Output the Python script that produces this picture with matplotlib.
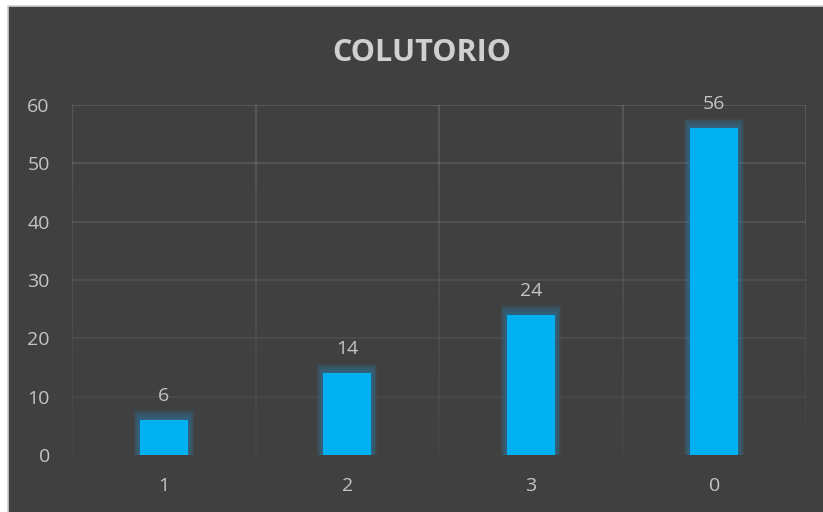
import matplotlib.pyplot as plt
import numpy as np
from matplotlib.lines import Line2D
from matplotlib.patches import Rectangle
from matplotlib.collections import LineCollection

categories = ["1", "2", "3", "0"]
values = [6, 14, 24, 56]
yticks = [0, 10, 20, 30, 40, 50, 60]

bg = "#404040"
bar_color = "#00B0F0"
text_color = "#C4C4C4"

plt.rcParams['font.family'] = ['Open Sans', 'DejaVu Sans']

W, H = 823, 512
fig = plt.figure(figsize=(W / 100, H / 100), dpi=100, facecolor="white")
# dark chart area, thin light frame on the left and top only
fig.patches.append(Rectangle((8 / W, 0), 1 - 8 / W, 1 - 6 / H, transform=fig.transFigure,
                             facecolor=bg, edgecolor="none", zorder=-10))
fig.lines.append(Line2D([8 / W, 8 / W, 1], [0, 1 - 6 / H, 1 - 6 / H], transform=fig.transFigure,
                        color="#D0D0D0", linewidth=1.2, zorder=-9))

ax = fig.add_axes([72 / W, 1 - 455 / H, (806 - 72) / W, (455 - 105) / H])
ax.set_facecolor("none")
x = np.arange(len(categories))
ax.set_xlim(-0.5, len(categories) - 0.5)
ax.set_ylim(0, 60)

# gridlines that fade out toward the bottom
def grid_col(y):
    t = y / 60.0
    return (1, 1, 1, 0.03 + 0.11 * t)

for y in yticks[1:]:
    ax.axhline(y, color=grid_col(y), linewidth=1.2, zorder=1)

segs, cols = [], []
ys = np.linspace(0, 60, 61)
for xv in np.arange(-0.5, len(categories), 1.0):
    for y0, y1 in zip(ys[:-1], ys[1:]):
        segs.append([(xv, y0), (xv, y1)])
        cols.append(grid_col(y1))
ax.add_collection(LineCollection(segs, colors=cols, linewidths=1.2, zorder=1))

# soft glow around bars
bw = 0.26
for i in range(6):
    ax.bar(x, np.array(values) + 0.28 * (i + 1), width=bw + 0.011 * (i + 1),
           color="#2A7FB0", alpha=0.13, linewidth=0, zorder=2)
ax.bar(x, values, width=bw, color=bar_color, linewidth=0, zorder=3)

for xi, v in zip(x, values):
    ax.text(xi, v + 2.6, str(v), ha="center", va="bottom", color=text_color,
            fontsize=14, zorder=4)

ax.set_xticks(x, categories)
ax.set_yticks(yticks)
ax.tick_params(colors=text_color, labelsize=14, length=0)
ax.tick_params(axis="y", pad=16)
ax.tick_params(axis="x", pad=16)
for s in ax.spines.values():
    s.set_visible(False)

fig.text(422 / W, 1 - 53 / H, "COLUTORIO", ha="center", va="center",
         color="#D0D0D0", fontsize=22, fontweight="bold")

fig.savefig("out.png", dpi=100, facecolor="white")
